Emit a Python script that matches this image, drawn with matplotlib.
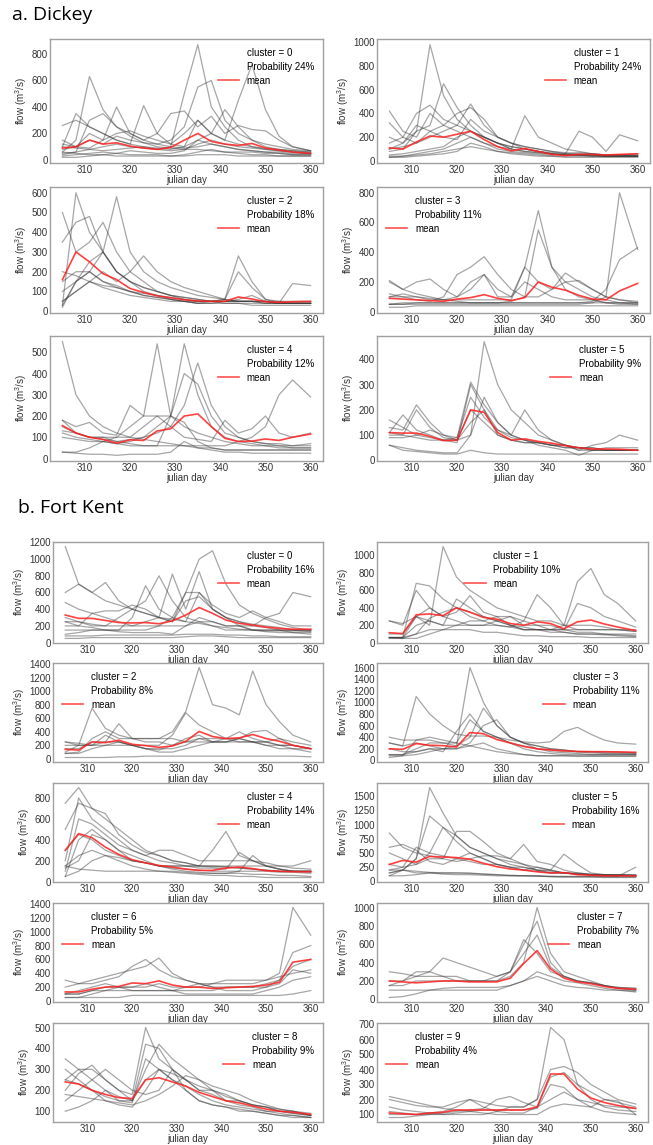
import matplotlib.pyplot as plt
from matplotlib.lines import Line2D
from matplotlib.ticker import MultipleLocator

plt.rcParams['font.family'] = ['Liberation Sans', 'DejaVu Sans']
plt.rcParams['mathtext.default'] = 'regular'

# sampled julian days shared by every series
DAYS = [305, 308, 311, 314, 317, 320, 323, 326, 329, 332, 335, 338, 341, 344, 347, 350, 353, 356, 360]

# ---------------- Dickey ----------------
DICKEY_PROB = [24, 24, 18, 11, 12, 9]
DICKEY_LOC = ['upper right', 'upper right', 'upper right', 'upper left', 'upper right', 'upper right']
DICKEY_STEP = [200, 200, 100, 200, 100, 100]

D0 = [
    [50, 60, 80, 100, 120, 100, 90, 80, 100, 500, 870, 400, 250, 150, 100, 80, 70, 60, 50],
    [60, 150, 630, 380, 250, 180, 130, 100, 90, 80, 80, 70, 60, 60, 60, 50, 50, 40, 40],
    [120, 100, 150, 120, 180, 150, 130, 120, 150, 250, 550, 600, 300, 200, 150, 120, 100, 80, 70],
    [260, 300, 250, 200, 150, 120, 100, 90, 80, 100, 150, 200, 150, 450, 720, 380, 180, 100, 70],
    [80, 100, 200, 150, 400, 200, 150, 120, 100, 90, 100, 120, 100, 80, 70, 60, 60, 50, 50],
    [100, 350, 250, 200, 150, 120, 410, 200, 120, 100, 300, 200, 380, 250, 150, 100, 80, 70, 60],
    [40, 60, 300, 350, 250, 200, 150, 200, 350, 370, 250, 330, 200, 260, 230, 220, 150, 100, 70],
    [30, 40, 50, 60, 50, 40, 40, 40, 30, 40, 60, 80, 60, 50, 40, 40, 30, 30, 30],
    [20, 20, 30, 40, 50, 70, 60, 50, 50, 70, 150, 120, 100, 80, 70, 60, 50, 40, 40],
    [150, 100, 90, 150, 200, 220, 180, 150, 120, 200, 300, 200, 150, 120, 100, 90, 80, 70, 60],
    [60, 50, 40, 40, 30, 30, 30, 30, 30, 30, 40, 40, 40, 30, 30, 30, 30, 30, 30],
    [100, 90, 80, 70, 80, 90, 100, 80, 70, 80, 120, 150, 120, 100, 90, 80, 70, 60, 50],
]
D0_MEAN = [90, 100, 150, 120, 130, 105, 90, 80, 95, 150, 200, 140, 120, 110, 125, 90, 75, 60, 50]

D1 = [
    [80, 100, 250, 980, 550, 350, 250, 200, 150, 120, 100, 80, 60, 50, 50, 50, 40, 40, 40],
    [100, 150, 250, 300, 650, 450, 300, 200, 150, 100, 80, 70, 60, 50, 50, 50, 40, 40, 40],
    [420, 250, 200, 400, 300, 250, 200, 150, 120, 100, 80, 70, 60, 50, 50, 40, 40, 40, 40],
    [100, 120, 150, 200, 250, 300, 480, 300, 200, 150, 100, 80, 70, 60, 50, 50, 40, 40, 40],
    [150, 200, 400, 470, 350, 300, 250, 200, 150, 120, 100, 80, 60, 50, 50, 40, 40, 40, 40],
    [50, 60, 80, 100, 120, 200, 250, 200, 150, 100, 380, 200, 150, 100, 80, 60, 50, 50, 40],
    [30, 40, 60, 80, 100, 150, 200, 150, 100, 80, 70, 60, 50, 60, 250, 200, 80, 220, 170],
    [30, 30, 40, 50, 60, 80, 150, 120, 80, 60, 50, 40, 40, 30, 30, 30, 30, 30, 30],
    [320, 200, 150, 250, 200, 180, 350, 250, 200, 150, 120, 100, 80, 60, 70, 60, 50, 50, 60],
    [200, 150, 300, 250, 300, 400, 450, 350, 200, 150, 120, 100, 80, 70, 60, 60, 50, 50, 50],
    [40, 40, 50, 60, 80, 100, 120, 100, 80, 70, 60, 50, 40, 40, 40, 40, 40, 40, 40],
]
D1_MEAN = [110, 100, 160, 210, 200, 225, 250, 180, 120, 85, 105, 80, 55, 45, 55, 55, 50, 55, 60]

D2 = [
    [30, 600, 400, 300, 200, 150, 120, 100, 80, 70, 60, 50, 50, 50, 50, 40, 40, 40, 40],
    [100, 150, 200, 300, 580, 300, 200, 150, 120, 100, 80, 70, 60, 50, 50, 50, 40, 40, 40],
    [50, 100, 150, 200, 150, 200, 280, 200, 150, 120, 100, 80, 60, 50, 50, 50, 40, 40, 40],
    [30, 150, 200, 150, 120, 100, 80, 70, 60, 50, 40, 50, 60, 280, 150, 60, 50, 40, 40],
    [50, 100, 150, 120, 100, 80, 70, 60, 50, 50, 40, 40, 50, 60, 80, 50, 40, 140, 130],
    [350, 450, 480, 300, 200, 150, 120, 100, 80, 60, 50, 50, 50, 50, 50, 40, 40, 40, 40],
    [500, 300, 350, 450, 300, 200, 150, 100, 80, 70, 60, 50, 40, 40, 40, 40, 40, 40, 40],
    [150, 200, 200, 150, 130, 100, 80, 70, 60, 50, 50, 50, 50, 50, 50, 50, 50, 50, 50],
    [20, 150, 250, 300, 200, 150, 100, 80, 60, 50, 40, 40, 40, 40, 30, 30, 30, 30, 30],
    [200, 180, 150, 130, 120, 100, 90, 80, 70, 60, 50, 50, 60, 200, 120, 60, 40, 40, 40],
]
D2_MEAN = [160, 300, 250, 190, 160, 115, 95, 78, 68, 58, 52, 50, 50, 72, 62, 48, 45, 48, 50]

D3 = [
    [200, 150, 120, 100, 80, 80, 80, 80, 80, 80, 300, 680, 300, 150, 100, 80, 60, 50, 50],
    [50, 50, 60, 60, 60, 60, 60, 60, 60, 70, 100, 550, 300, 200, 150, 100, 80, 60, 50],
    [50, 50, 50, 50, 50, 50, 50, 50, 50, 50, 50, 50, 50, 50, 50, 60, 100, 800, 420],
    [50, 60, 60, 60, 60, 60, 60, 60, 60, 60, 60, 60, 60, 60, 60, 70, 150, 350, 430],
    [100, 100, 80, 70, 100, 250, 300, 370, 250, 150, 100, 100, 150, 260, 200, 150, 100, 80, 60],
    [210, 150, 200, 220, 150, 100, 200, 250, 100, 100, 300, 200, 150, 200, 210, 150, 100, 80, 70],
    [100, 120, 100, 80, 80, 100, 150, 250, 150, 100, 200, 150, 100, 80, 80, 80, 60, 60, 60],
    [30, 30, 40, 40, 40, 40, 40, 40, 40, 40, 40, 40, 40, 40, 40, 40, 40, 40, 40],
    [120, 100, 100, 90, 80, 70, 60, 60, 60, 60, 60, 60, 60, 60, 60, 60, 60, 60, 60],
]
D3_MEAN = [90, 85, 80, 75, 70, 85, 95, 115, 90, 75, 95, 200, 165, 145, 110, 85, 80, 140, 190]

D4 = [
    [550, 300, 200, 150, 120, 100, 90, 80, 70, 60, 50, 50, 40, 40, 40, 40, 40, 40, 40],
    [130, 120, 100, 100, 100, 150, 200, 540, 200, 150, 120, 100, 80, 70, 60, 60, 50, 50, 50],
    [120, 100, 90, 80, 70, 80, 100, 150, 200, 540, 300, 150, 100, 80, 70, 60, 60, 50, 50],
    [150, 120, 100, 90, 80, 90, 100, 120, 150, 250, 450, 250, 150, 100, 80, 70, 60, 60, 60],
    [100, 90, 80, 80, 70, 60, 60, 60, 60, 60, 60, 60, 60, 80, 100, 150, 300, 370, 290],
    [180, 150, 170, 120, 110, 250, 200, 200, 150, 100, 90, 80, 180, 120, 140, 200, 120, 100, 120],
    [30, 30, 50, 80, 100, 100, 150, 200, 200, 400, 350, 200, 120, 100, 80, 70, 70, 60, 70],
    [30, 25, 20, 20, 15, 20, 20, 20, 30, 80, 50, 40, 30, 30, 25, 25, 25, 25, 25],
    [180, 120, 100, 100, 80, 70, 60, 60, 200, 170, 80, 50, 40, 40, 40, 40, 40, 40, 40],
]
D4_MEAN = [155, 120, 100, 90, 72, 88, 85, 130, 140, 200, 210, 150, 95, 80, 82, 92, 85, 100, 115]

D5 = [
    [100, 100, 90, 80, 80, 80, 100, 470, 300, 200, 150, 100, 80, 60, 50, 50, 40, 40, 40],
    [110, 180, 120, 100, 80, 70, 300, 200, 120, 100, 80, 70, 60, 50, 50, 40, 40, 40, 40],
    [160, 130, 100, 90, 80, 90, 310, 220, 150, 100, 80, 70, 60, 50, 50, 40, 40, 40, 40],
    [60, 50, 40, 35, 30, 30, 100, 250, 150, 100, 200, 120, 80, 60, 40, 40, 40, 40, 40],
    [130, 120, 220, 150, 100, 80, 150, 200, 100, 80, 70, 70, 60, 60, 40, 60, 70, 100, 80],
    [60, 40, 35, 30, 25, 25, 40, 30, 25, 25, 25, 25, 25, 25, 25, 25, 25, 25, 25],
    [110, 100, 200, 130, 90, 80, 200, 150, 100, 80, 70, 70, 60, 60, 50, 50, 40, 40, 40],
    [90, 90, 100, 120, 100, 90, 250, 170, 120, 90, 80, 60, 50, 40, 20, 40, 50, 50, 50],
]
D5_MEAN = [110, 108, 108, 95, 78, 80, 200, 190, 110, 80, 85, 75, 68, 58, 50, 45, 45, 44, 40]

# ---------------- Fort Kent ----------------
FK_PROB = [16, 10, 8, 11, 14, 16, 5, 7, 9, 4]
FK_LOC = ['upper right', 'upper center', 'upper left', 'upper right', 'upper right',
          'upper right', 'upper left', 'upper right', 'upper right', 'upper left']
FK_STEP = [200, 200, 200, 200, 200, 250, 200, 200, 100, 100]

K0 = [
    [1150, 700, 600, 500, 450, 400, 350, 300, 280, 250, 230, 200, 180, 160, 150, 140, 140, 140, 140],
    [100, 120, 150, 150, 150, 150, 150, 200, 300, 600, 1000, 1100, 700, 450, 350, 280, 220, 180, 150],
    [300, 250, 200, 200, 300, 400, 500, 800, 500, 300, 250, 200, 150, 150, 150, 130, 120, 120, 100],
    [600, 700, 600, 720, 500, 400, 350, 300, 820, 400, 850, 400, 300, 200, 150, 150, 150, 150, 150],
    [250, 250, 220, 200, 200, 200, 200, 200, 200, 200, 250, 250, 200, 200, 200, 300, 350, 600, 550],
    [250, 200, 180, 150, 150, 300, 680, 400, 300, 250, 600, 400, 300, 250, 200, 180, 150, 120, 120],
    [480, 400, 350, 300, 250, 200, 250, 300, 250, 600, 600, 450, 350, 300, 380, 300, 250, 200, 200],
    [80, 80, 80, 90, 90, 90, 90, 90, 90, 100, 100, 100, 90, 90, 80, 80, 70, 70, 70],
    [150, 150, 150, 150, 130, 120, 120, 120, 100, 200, 300, 250, 200, 200, 150, 150, 150, 150, 150],
    [50, 50, 60, 60, 60, 60, 60, 60, 60, 70, 80, 80, 70, 60, 60, 60, 60, 60, 60],
    [200, 200, 350, 380, 380, 450, 400, 300, 250, 500, 550, 400, 300, 250, 220, 200, 180, 150, 130],
]
K0_MEAN = [330, 290, 290, 265, 240, 235, 240, 225, 260, 330, 420, 350, 270, 230, 210, 185, 170, 160, 160]

K1 = [
    [250, 220, 300, 200, 1100, 750, 600, 500, 400, 350, 300, 250, 250, 200, 150, 150, 150, 150, 150],
    [60, 60, 300, 250, 200, 200, 200, 200, 200, 180, 150, 150, 150, 200, 700, 850, 550, 450, 250],
    [60, 60, 680, 650, 500, 400, 350, 300, 250, 200, 180, 150, 150, 150, 120, 120, 100, 100, 100],
    [250, 200, 600, 400, 300, 250, 200, 200, 250, 300, 200, 200, 200, 150, 450, 400, 300, 250, 180],
    [60, 60, 100, 150, 150, 200, 250, 250, 200, 180, 250, 550, 400, 200, 200, 200, 180, 150, 130],
    [100, 100, 300, 400, 300, 350, 540, 350, 300, 200, 150, 150, 150, 150, 150, 150, 150, 150, 130],
    [60, 60, 200, 250, 200, 500, 400, 300, 250, 200, 150, 150, 120, 120, 100, 100, 100, 80, 70],
    [60, 50, 50, 100, 150, 150, 150, 120, 120, 100, 80, 80, 70, 70, 70, 60, 60, 60, 60],
    [50, 50, 100, 280, 350, 400, 300, 250, 300, 300, 250, 200, 150, 120, 100, 100, 90, 90, 80],
]
K1_MEAN = [115, 105, 320, 330, 310, 400, 350, 290, 270, 220, 200, 240, 220, 160, 240, 260, 215, 180, 140]

K2 = [
    [80, 100, 300, 400, 300, 300, 300, 300, 400, 700, 1350, 800, 750, 650, 1300, 800, 550, 350, 250],
    [100, 200, 750, 450, 350, 300, 250, 250, 200, 250, 250, 250, 250, 250, 250, 250, 200, 200, 150],
    [250, 230, 200, 200, 200, 200, 200, 200, 350, 680, 500, 400, 300, 250, 250, 250, 200, 200, 150],
    [200, 200, 200, 250, 520, 300, 300, 300, 300, 250, 300, 300, 300, 300, 400, 420, 300, 250, 200],
    [250, 200, 200, 350, 250, 200, 150, 130, 200, 300, 350, 250, 300, 400, 300, 250, 300, 200, 150],
    [150, 150, 250, 250, 250, 200, 150, 150, 150, 200, 300, 250, 250, 300, 250, 200, 200, 150, 100],
    [20, 20, 20, 20, 30, 30, 40, 40, 40, 40, 40, 40, 40, 40, 40, 40, 40, 40, 30],
    [80, 80, 150, 200, 250, 200, 150, 100, 100, 150, 200, 250, 250, 300, 250, 200, 150, 150, 150],
]
K2_MEAN = [140, 130, 250, 240, 275, 215, 195, 170, 190, 260, 405, 330, 300, 310, 360, 300, 260, 200, 150]

K3 = [
    [100, 100, 200, 300, 300, 250, 1600, 1000, 600, 400, 300, 250, 200, 180, 150, 150, 150, 150, 130],
    [300, 250, 1100, 800, 600, 450, 420, 420, 400, 350, 320, 300, 320, 500, 570, 450, 350, 300, 280],
    [200, 150, 150, 200, 150, 500, 800, 500, 400, 300, 250, 200, 180, 150, 150, 130, 120, 120, 110],
    [100, 100, 150, 200, 200, 250, 400, 900, 600, 400, 300, 250, 200, 180, 150, 150, 130, 130, 120],
    [300, 250, 300, 250, 200, 200, 300, 600, 700, 400, 300, 200, 150, 130, 120, 100, 100, 100, 100],
    [400, 350, 350, 350, 300, 300, 700, 500, 400, 300, 200, 150, 120, 100, 100, 100, 100, 100, 100],
    [80, 80, 100, 150, 200, 200, 250, 300, 200, 150, 100, 80, 80, 80, 70, 70, 70, 70, 70],
    [50, 80, 350, 400, 350, 300, 250, 200, 150, 120, 100, 80, 80, 80, 80, 80, 80, 80, 80],
]
K3_MEAN = [200, 190, 290, 260, 255, 230, 480, 460, 360, 300, 240, 200, 180, 165, 155, 150, 150, 145, 140]

K4 = [
    [750, 900, 700, 600, 500, 400, 300, 250, 200, 180, 150, 150, 140, 130, 120, 110, 100, 100, 90],
    [500, 750, 700, 650, 450, 350, 280, 250, 200, 180, 150, 140, 140, 130, 120, 110, 100, 100, 100],
    [300, 450, 400, 300, 250, 200, 180, 150, 150, 150, 150, 300, 480, 250, 200, 150, 150, 130, 120],
    [200, 800, 600, 500, 400, 300, 250, 200, 180, 150, 130, 130, 120, 280, 200, 150, 120, 100, 100],
    [150, 250, 300, 250, 200, 150, 120, 100, 100, 90, 80, 80, 80, 100, 250, 150, 120, 100, 100],
    [100, 600, 550, 450, 350, 300, 250, 300, 300, 250, 200, 200, 200, 200, 200, 180, 150, 150, 200],
    [150, 120, 110, 100, 100, 100, 100, 100, 90, 80, 70, 60, 60, 50, 50, 40, 40, 40, 40],
    [50, 400, 500, 400, 300, 250, 200, 150, 120, 100, 90, 80, 80, 80, 70, 70, 60, 60, 50],
    [50, 100, 200, 250, 230, 200, 180, 150, 130, 120, 110, 100, 100, 100, 100, 100, 90, 90, 80],
    [130, 200, 450, 400, 300, 200, 180, 150, 150, 150, 150, 150, 150, 150, 150, 150, 120, 100, 100],
]
K4_MEAN = [300, 460, 420, 330, 260, 210, 180, 155, 140, 120, 108, 108, 130, 140, 125, 105, 100, 95, 95]

K5 = [
    [150, 200, 400, 1650, 1200, 800, 600, 500, 400, 350, 300, 200, 200, 150, 150, 130, 120, 120, 120],
    [100, 200, 400, 1150, 950, 800, 600, 500, 400, 300, 250, 200, 150, 150, 130, 120, 110, 110, 110],
    [500, 400, 300, 500, 950, 700, 500, 400, 300, 250, 200, 180, 150, 150, 130, 120, 110, 100, 100],
    [300, 250, 300, 400, 400, 880, 880, 700, 500, 400, 300, 250, 200, 150, 130, 120, 110, 100, 100],
    [850, 600, 500, 450, 400, 350, 400, 450, 450, 400, 650, 350, 300, 200, 150, 120, 100, 100, 100],
    [200, 250, 600, 500, 450, 400, 350, 300, 300, 250, 200, 250, 200, 480, 300, 150, 120, 120, 100],
    [100, 100, 120, 150, 150, 150, 150, 130, 120, 100, 100, 100, 80, 80, 80, 80, 80, 80, 80],
    [200, 200, 180, 160, 150, 150, 140, 130, 120, 110, 100, 100, 90, 90, 90, 90, 90, 90, 250],
    [600, 650, 550, 350, 300, 400, 500, 400, 300, 250, 250, 200, 180, 150, 130, 120, 120, 120, 110],
    [150, 200, 150, 150, 130, 120, 120, 110, 100, 100, 100, 90, 90, 80, 80, 80, 70, 70, 70],
]
K5_MEAN = [300, 370, 340, 440, 430, 420, 390, 320, 260, 220, 200, 170, 150, 155, 120, 110, 100, 100, 100]

K6 = [
    [100, 100, 150, 200, 200, 200, 200, 250, 200, 200, 200, 250, 300, 300, 300, 300, 400, 1350, 950],
    [100, 100, 150, 150, 150, 150, 150, 150, 150, 150, 150, 150, 200, 200, 200, 200, 300, 700, 800],
    [300, 250, 300, 350, 400, 450, 500, 620, 400, 300, 250, 200, 200, 200, 200, 250, 300, 500, 600],
    [200, 250, 250, 300, 350, 500, 600, 450, 350, 300, 250, 250, 250, 250, 250, 300, 350, 400, 450],
    [100, 150, 200, 250, 200, 150, 150, 150, 150, 200, 250, 200, 150, 150, 150, 200, 250, 450, 400],
    [50, 50, 100, 150, 200, 200, 250, 200, 150, 100, 100, 100, 100, 100, 100, 150, 200, 300, 350],
    [50, 50, 50, 50, 50, 80, 80, 80, 80, 80, 80, 80, 80, 80, 80, 80, 80, 100, 150],
]
K6_MEAN = [130, 130, 170, 200, 210, 260, 250, 290, 230, 200, 200, 180, 190, 200, 210, 230, 270, 560, 600]

K7 = [
    [150, 150, 200, 200, 200, 200, 200, 200, 200, 250, 400, 1000, 500, 300, 250, 200, 150, 120, 100],
    [300, 280, 250, 250, 250, 200, 200, 200, 200, 300, 600, 850, 400, 250, 200, 180, 150, 130, 120],
    [200, 200, 250, 300, 450, 400, 350, 300, 250, 300, 500, 700, 350, 250, 200, 180, 150, 130, 120],
    [150, 200, 300, 300, 250, 250, 200, 200, 250, 300, 650, 500, 300, 250, 200, 180, 150, 120, 100],
    [100, 100, 100, 100, 100, 100, 100, 100, 100, 150, 200, 250, 200, 150, 130, 120, 100, 100, 90],
    [20, 30, 60, 100, 120, 130, 130, 130, 130, 150, 200, 300, 250, 200, 180, 150, 120, 100, 80],
]
K7_MEAN = [200, 190, 180, 190, 200, 200, 190, 190, 190, 230, 390, 530, 330, 230, 190, 170, 140, 120, 110]

K8 = [
    [250, 300, 300, 250, 200, 180, 500, 350, 300, 250, 200, 200, 150, 150, 130, 120, 100, 100, 90],
    [350, 300, 250, 200, 150, 150, 420, 400, 300, 250, 200, 180, 150, 130, 120, 100, 100, 90, 80],
    [200, 280, 320, 250, 200, 150, 300, 420, 350, 300, 250, 200, 180, 150, 130, 120, 110, 100, 80],
    [300, 250, 200, 150, 130, 120, 200, 300, 250, 220, 180, 150, 130, 120, 110, 100, 90, 80, 70],
    [100, 120, 150, 200, 170, 150, 250, 300, 280, 250, 220, 200, 170, 150, 130, 120, 100, 90, 80],
    [250, 230, 200, 170, 150, 140, 350, 300, 250, 200, 150, 130, 120, 100, 100, 90, 80, 70, 70],
    [150, 200, 250, 300, 250, 200, 180, 200, 300, 200, 150, 130, 120, 110, 100, 90, 80, 80, 70],
    [180, 170, 160, 150, 140, 130, 150, 180, 220, 270, 250, 220, 200, 180, 150, 130, 110, 100, 80],
]
K8_MEAN = [240, 230, 200, 180, 165, 160, 250, 260, 240, 220, 190, 170, 150, 140, 125, 110, 100, 95, 85]

K9 = [
    [150, 130, 120, 110, 100, 100, 100, 100, 120, 150, 150, 200, 680, 600, 300, 250, 200, 180, 150],
    [200, 180, 160, 150, 150, 180, 200, 180, 160, 150, 150, 200, 400, 420, 380, 300, 250, 200, 170],
    [100, 100, 100, 110, 120, 150, 200, 150, 120, 110, 110, 150, 350, 380, 300, 200, 150, 130, 120],
    [80, 80, 90, 100, 110, 120, 130, 140, 200, 220, 180, 150, 200, 250, 200, 180, 160, 150, 140],
    [120, 110, 100, 100, 100, 110, 120, 130, 130, 130, 130, 140, 300, 280, 200, 150, 120, 110, 100],
    [220, 200, 180, 160, 140, 130, 120, 110, 100, 100, 100, 100, 150, 170, 160, 150, 200, 190, 100],
]
K9_MEAN = [110, 105, 100, 110, 115, 130, 130, 130, 130, 130, 130, 150, 370, 370, 270, 210, 180, 160, 140]

W, H = 653, 1145
fig = plt.figure(figsize=(W / 100, H / 100), dpi=100)


def panel(box, lines, mean, cluster, prob, loc, step):
    x0, y0, x1, y1 = box
    ax = fig.add_axes([x0 / W, 1 - y1 / H, (x1 - x0) / W, (y1 - y0) / H])
    for ln in lines:
        ax.plot(DAYS, ln, color='#3a3a3a', alpha=0.45, lw=0.9)
    ax.plot(DAYS, mean, color='#ff2020', alpha=0.85, lw=1.2)
    ax.yaxis.set_major_locator(MultipleLocator(step))
    ax.set_xticks([310, 320, 330, 340, 350, 360])
    ax.tick_params(length=0, pad=1.5, labelsize=7, colors='#333333')
    for s in ax.spines.values():
        s.set_color('#a0a0a0')
        s.set_linewidth(1.0)
    ax.set_xlabel('julian day', fontsize=7, labelpad=0, color='#333333')
    ax.set_ylabel('flow (m$^3$/s)', fontsize=7, labelpad=2, color='#333333')
    handles = [Line2D([], [], color='none'), Line2D([], [], color='none'),
               Line2D([], [], color='#ff5050', lw=1.2)]
    labels = ['cluster = %d' % cluster, 'Probability %d%%' % prob, 'mean']
    ax.legend(handles, labels, loc=loc, frameon=False, fontsize=7,
              handlelength=2.2, labelspacing=0.4, borderaxespad=0.5)
    return ax


fig.text(12 / W, 1 - 15 / H, 'a. Dickey', fontsize=14, va='center',
         family=['Open Sans', 'DejaVu Sans'])
fig.text(18 / W, 1 - 508 / H, 'b. Fort Kent', fontsize=14, va='center',
         family=['Open Sans', 'DejaVu Sans'])

dickey_lines = [D0, D1, D2, D3, D4, D5]
dickey_means = [D0_MEAN, D1_MEAN, D2_MEAN, D3_MEAN, D4_MEAN, D5_MEAN]
dickey_rows = [(39, 163), (187, 313), (336, 461)]
for i in range(6):
    r, c = divmod(i, 2)
    xs = (50, 323) if c == 0 else (377, 650)
    box = (xs[0], dickey_rows[r][0], xs[1], dickey_rows[r][1])
    panel(box, dickey_lines[i], dickey_means[i], i, DICKEY_PROB[i], DICKEY_LOC[i], DICKEY_STEP[i])

fk_lines = [K0, K1, K2, K3, K4, K5, K6, K7, K8, K9]
fk_means = [K0_MEAN, K1_MEAN, K2_MEAN, K3_MEAN, K4_MEAN, K5_MEAN, K6_MEAN, K7_MEAN, K8_MEAN, K9_MEAN]
fk_rows = [(542, 643), (663, 762), (783, 882), (903, 1002), (1023, 1122)]
for i in range(10):
    r, c = divmod(i, 2)
    xs = (53, 323) if c == 0 else (377, 648)
    box = (xs[0], fk_rows[r][0], xs[1], fk_rows[r][1])
    panel(box, fk_lines[i], fk_means[i], i, FK_PROB[i], FK_LOC[i], FK_STEP[i])

fig.savefig('out.png', dpi=100)
